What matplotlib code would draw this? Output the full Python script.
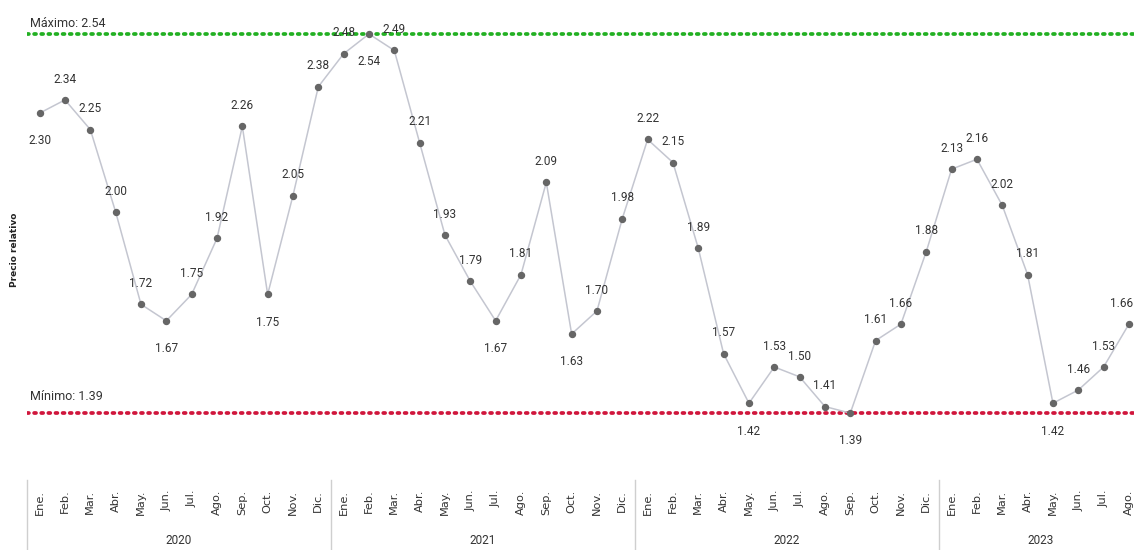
import matplotlib
matplotlib.use("Agg")
import matplotlib.pyplot as plt
from matplotlib import font_manager as fm

months = ["Ene.", "Feb.", "Mar.", "Abr.", "May.", "Jun.", "Jul.", "Ago.", "Sep.", "Oct.", "Nov.", "Dic."]
years = ["2020", "2021", "2022", "2023"]
values = [2.30, 2.34, 2.25, 2.00, 1.72, 1.67, 1.75, 1.92, 2.26, 1.75, 2.05, 2.38,
          2.48, 2.54, 2.49, 2.21, 1.93, 1.79, 1.67, 1.81, 2.09, 1.63, 1.70, 1.98,
          2.22, 2.15, 1.89, 1.57, 1.42, 1.53, 1.50, 1.41, 1.39, 1.61, 1.66, 1.88,
          2.13, 2.16, 2.02, 1.81, 1.42, 1.46, 1.53, 1.66]
below = [0, 5, 9, 13, 18, 21, 28, 32, 40]  # indices whose labels sit under the point
max_val = 2.54
min_val = 1.39

lab_fp = fm.FontProperties(family="Roboto", size=8.5)
yr_fp = fm.FontProperties(family="Roboto", size=8.5)
mm_fp = fm.FontProperties(family="Roboto", size=9)

n = len(values)
tick_labels = [months[i % 12] for i in range(n)]
x = list(range(n))

W, H = 1134, 550
fig = plt.figure(figsize=(W / 100, H / 100), dpi=100)
ax = fig.add_axes([27 / W, 1 - 455 / H, (W - 27) / W, 455 / H])
ax.set_xlim(-0.5, 43.2)
ax.set_ylim(1.263, 2.643)
for s in ax.spines.values():
    s.set_visible(False)
ax.set_yticks([])

ax.axhline(max_val, color="#22b022", lw=2.7, ls=(0, (0.5, 1.4)), dash_capstyle="round", zorder=1)
ax.axhline(min_val, color="#d0163c", lw=2.7, ls=(0, (0.5, 1.4)), dash_capstyle="round", zorder=1)
ax.text(0.003, max_val + 0.012, f"Máximo: {max_val:.2f}", transform=ax.get_yaxis_transform(),
        fontproperties=mm_fp, color="#333333", va="bottom", ha="left")
ax.text(0.003, min_val + 0.03, f"Mínimo: {min_val:.2f}", transform=ax.get_yaxis_transform(),
        fontproperties=mm_fp, color="#333333", va="bottom", ha="left")

ax.plot(x, values, color="#c4c6d0", lw=1.1, zorder=2)
ax.plot(x, values, "o", color="#666666", ms=4.3, zorder=3)

for i, v in enumerate(values):
    off = -20 if i in below else 15
    dx = -5 if i == n - 1 else 0
    ax.annotate(f"{v:.2f}", (i, v), xytext=(dx, off), textcoords="offset points",
                ha="center", va="center", fontproperties=lab_fp, color="#333333")

ax.set_xticks(x)
ax.set_xticklabels(tick_labels, rotation=90, fontsize=8.2, color="#333333", va="top", ha="center")
ax.tick_params(axis="x", length=0, pad=25)

for k, yr in enumerate(years):
    start = 12 * k - 0.5
    xm = (start + min(12 * k + 11.5, n - 0.5)) / 2
    fig.text(ax.transData.transform((xm, 0))[0] / W, 1 - 540 / H, yr, ha="center", va="center",
             fontproperties=yr_fp, color="#333333")
    xs = ax.transData.transform((start, 0))[0] / W
    fig.add_artist(plt.Line2D([xs, xs], [1 - 480 / H, 0], color="#cfcfcf", lw=1))

fig.text(15 / W, 1 - 250 / H, "Precio relativo", rotation=90, ha="center", va="center",
         fontsize=6.5, fontweight="bold", color="#222222")

fig.savefig("out.png", dpi=100)
